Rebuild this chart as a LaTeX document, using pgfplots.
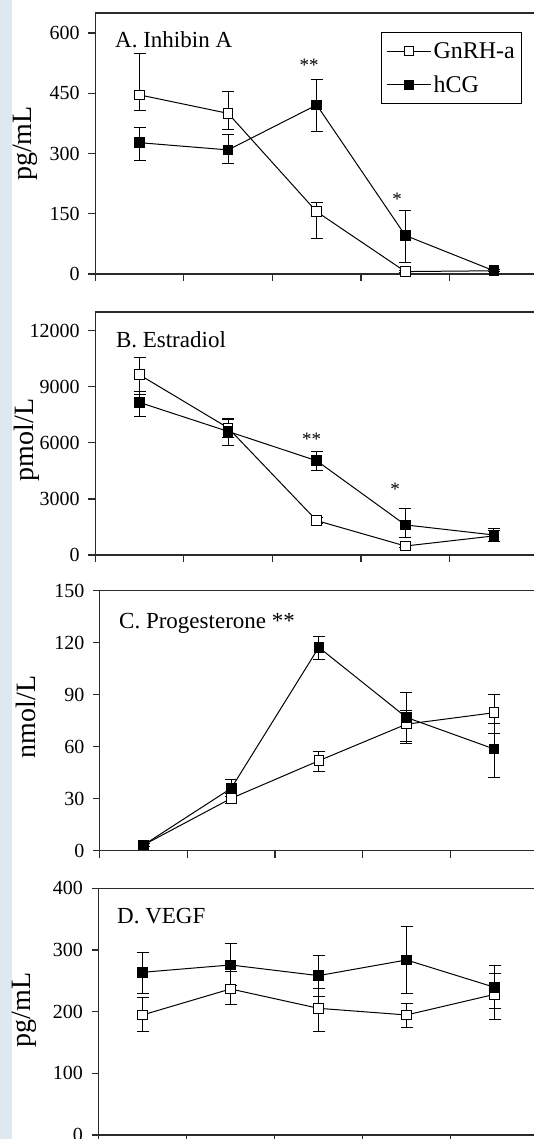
\documentclass[border=0pt]{standalone}
\usepackage{pgfplots}
\pgfplotsset{compat=1.18}
\usepackage{pgfplotstable}
\usepackage{fontspec}
\setmainfont{Liberation Serif}

\definecolor{strip}{HTML}{E0E8EF}
\definecolor{axgray}{HTML}{2A2A2A}

% x y ep em
\pgfplotstableread{
x y ep em
0.5 446 104 40
1.5 400 55 41
2.5 155 24 66
3.5 6 3 3
4.5 8 3 3
}\aGn
\pgfplotstableread{
x y ep em
0.5 327 38 45
1.5 309 38 35
2.5 421 63 66
3.5 96 62 68
4.5 8 3 3
}\aHc
\pgfplotstableread{
x y ep em
0.5 9640 950 1050
1.5 6800 500 500
2.5 1840 150 150
3.5 480 100 100
4.5 1020 300 300
}\bGn
\pgfplotstableread{
x y ep em
0.5 8160 590 750
1.5 6610 620 750
2.5 5040 500 520
3.5 1610 890 700
4.5 1070 350 350
}\bHc
\pgfplotstableread{
x y ep em
0.5 3.3 1 1
1.5 30.2 3 3
2.5 51.9 5.2 6.3
3.5 73 8 11
4.5 79.6 10.6 11.9
}\cGn
\pgfplotstableread{
x y ep em
0.5 3.3 1 1
1.5 36 5 5
2.5 117.3 6.5 7
3.5 76.9 14.3 14
4.5 58.7 14.8 16.4
}\cHc
\pgfplotstableread{
x y ep em
0.5 194.6 29 26
1.5 236.8 28 26
2.5 205.4 32 37
3.5 194.6 18 21
4.5 228 34 40
}\dGn
\pgfplotstableread{
x y ep em
0.5 263.8 32 35
1.5 275.7 35 33
2.5 258.4 32 34
3.5 283.8 54 54
4.5 239.5 35 35
}\dHc

\pgfplotsset{
  panel/.style={
    scale only axis, anchor=south west, clip=false,
    xmin=0, xmax=5.6,
    xtick={0,...,5}, xticklabels={},
    tick pos=left, tick align=outside, major tick length=7pt,
    axis line style={line width=1.3pt, axgray},
    every tick/.style={line width=1.2pt, axgray},
    tick label style={font=\fontsize{20}{22}\selectfont},
    yticklabel style={xshift=-5pt},
    scaled y ticks=false,
    /pgf/number format/assume math mode=true,
    /pgf/number format/1000 sep={},
  },
  gn/.style={black, line width=1pt, mark=square*, mark size=4.8pt,
    mark options={fill=white, solid},
    /pgfplots/error bars/y dir=both, /pgfplots/error bars/y explicit,
    /pgfplots/error bars/error bar style={line width=1pt, black},
    /pgfplots/error bars/error mark options={rotate=90, mark size=6pt, line width=1pt}},
  hc/.style={black, line width=1pt, mark=square*, mark size=4.8pt,
    mark options={fill=black, solid},
    /pgfplots/error bars/y dir=both, /pgfplots/error bars/y explicit,
    /pgfplots/error bars/error bar style={line width=1pt, black},
    /pgfplots/error bars/error mark options={rotate=90, mark size=6pt, line width=1pt}},
}

\begin{document}
\begin{tikzpicture}[x=1pt, y=1pt]
\useasboundingbox (0,0) rectangle (534,1139);
\clip (0,0) rectangle (534,1139);
\fill[strip] (0,0) rectangle (12,1139);

% A. Inhibin A
\begin{axis}[panel, at={(95.2pt,865pt)}, x=88.6pt, height=261pt,
    ymin=0, ymax=650, ytick={0,150,...,600},
    legend style={at={(axis cs:3.226,603)}, anchor=north west, draw=black,
      line width=1pt, font=\fontsize{24}{26}\selectfont,
      inner xsep=5pt, inner ysep=8pt, row sep=12pt,
      /tikz/every even column/.append style={column sep=4pt}},
    legend cell align=left,
    legend image code/.code={\draw[mark repeat=2, mark phase=2, #1]
      plot coordinates {(0pt,0pt) (22pt,0pt) (44pt,0pt)};}]
\addplot[gn] table[x=x, y=y, y error plus=ep, y error minus=em] {\aGn};
\addlegendentry{GnRH-a}
\addplot[hc] table[x=x, y=y, y error plus=ep, y error minus=em] {\aHc};
\addlegendentry{hCG}
\end{axis}

% B. Estradiol
\begin{axis}[panel, at={(95.2pt,584pt)}, x=88.6pt, height=243pt,
    ymin=0, ymax=13000, ytick={0,3000,...,12000}]
\addplot[gn] table[x=x, y=y, y error plus=ep, y error minus=em] {\bGn};
\addplot[hc] table[x=x, y=y, y error plus=ep, y error minus=em] {\bHc};
\end{axis}

% C. Progesterone
\begin{axis}[panel, at={(99.8pt,288.3pt)}, x=87.6pt, height=260pt,
    ymin=0, ymax=150, ytick={0,30,...,150}]
\addplot[gn] table[x=x, y=y, y error plus=ep, y error minus=em] {\cGn};
\addplot[hc] table[x=x, y=y, y error plus=ep, y error minus=em] {\cHc};
\end{axis}

% D. VEGF
\begin{axis}[panel, at={(98.5pt,4pt)}, x=88pt, height=246.7pt,
    ymin=0, ymax=400, ytick={0,100,...,400}]
\addplot[gn] table[x=x, y=y, y error plus=ep, y error minus=em] {\dGn};
\addplot[hc] table[x=x, y=y, y error plus=ep, y error minus=em] {\dHc};
\end{axis}

% panel titles
\node[anchor=base west, inner sep=0pt, font=\fontsize{23}{25}\selectfont] at (115,1091) {A. Inhibin A};
\node[anchor=base west, inner sep=0pt, font=\fontsize{23}{25}\selectfont] at (115.8,791) {B. Estradiol};
\node[anchor=base west, inner sep=0pt, font=\fontsize{23}{25}\selectfont] at (119,510) {C. Progesterone **};
\node[anchor=base west, inner sep=0pt, font=\fontsize{23}{25}\selectfont] at (117,215) {D. VEGF};

% y labels
\node[rotate=90, font=\fontsize{28}{30}\selectfont] at (25.5,995.5) {pg/mL};
\node[rotate=90, font=\fontsize{28}{30}\selectfont] at (27,699) {pmol/L};
\node[rotate=90, font=\fontsize{28}{30}\selectfont] at (25.5,422) {nmol/L};
\node[rotate=90, font=\fontsize{28}{30}\selectfont] at (24,129) {pg/mL};

% significance marks
\node[anchor=north, inner sep=0pt, font=\fontsize{19}{21}\selectfont] at (309,1080.5) {**};
\node[anchor=north, inner sep=0pt, font=\fontsize{19}{21}\selectfont] at (397,946) {*};
\node[anchor=north, inner sep=0pt, font=\fontsize{19}{21}\selectfont] at (311.6,706) {**};
\node[anchor=north, inner sep=0pt, font=\fontsize{19}{21}\selectfont] at (395,656) {*};
\end{tikzpicture}
\end{document}
